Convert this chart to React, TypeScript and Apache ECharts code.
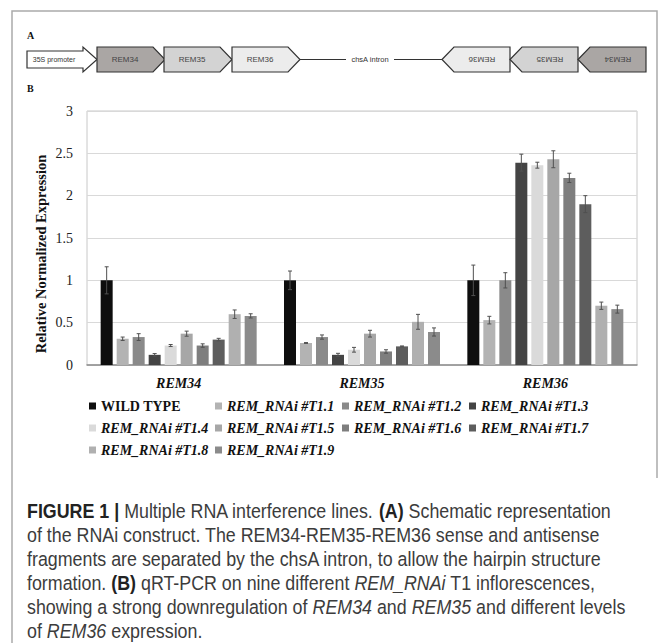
import React, { useEffect, useRef } from "react";
import * as echarts from "echarts";

// ---------- data ----------
const categories = ["REM34", "REM35", "REM36"];
const seriesNames = [
  "WILD TYPE",
  "REM_RNAi #T1.1",
  "REM_RNAi #T1.2",
  "REM_RNAi #T1.3",
  "REM_RNAi #T1.4",
  "REM_RNAi #T1.5",
  "REM_RNAi #T1.6",
  "REM_RNAi #T1.7",
  "REM_RNAi #T1.8",
  "REM_RNAi #T1.9",
];
const rem34Values = [1.0, 0.31, 0.33, 0.12, 0.23, 0.37, 0.23, 0.3, 0.6, 0.58];
const rem34Errors = [0.16, 0.02, 0.04, 0.015, 0.012, 0.03, 0.02, 0.015, 0.05, 0.025];
const rem35Values = [1.0, 0.26, 0.33, 0.12, 0.18, 0.37, 0.16, 0.22, 0.51, 0.39];
const rem35Errors = [0.11, 0.005, 0.025, 0.018, 0.028, 0.04, 0.02, 0.005, 0.088, 0.048];
const rem36Values = [1.0, 0.53, 1.0, 2.39, 2.36, 2.43, 2.21, 1.9, 0.7, 0.66];
const rem36Errors = [0.18, 0.045, 0.09, 0.1, 0.035, 0.1, 0.055, 0.1, 0.043, 0.047];
const yTicks = ["0", "0.5", "1", "1.5", "2", "2.5", "3"];
const yTitle = "Relative Normalized Expression";
const seriesColors = [
  "#0e0e0e", "#b3b3b3", "#8a8a8a", "#444444", "#dadada",
  "#a7a7a7", "#7e7e7e", "#5d5d5d", "#b0b0b0", "#8b8b8b",
];
const legendColumns = [
  ["WILD TYPE", "REM_RNAi #T1.4", "REM_RNAi #T1.8"],
  ["REM_RNAi #T1.1", "REM_RNAi #T1.5", "REM_RNAi #T1.9"],
  ["REM_RNAi #T1.2", "REM_RNAi #T1.6"],
  ["REM_RNAi #T1.3", "REM_RNAi #T1.7"],
];
const captionLines = [
  "{b|FIGURE 1 |} Multiple RNA interference lines. {b|(A)} Schematic representation",
  "of the RNAi construct. The REM34-REM35-REM36 sense and antisense",
  "fragments are separated by the chsA intron, to allow the hairpin structure",
  "formation. {b|(B)} qRT-PCR on nine different {i|REM_RNAi} T1 inflorescences,",
  "showing a strong downregulation of {i|REM34} and {i|REM35} and different levels",
  "of {i|REM36} expression.",
];

// ---------- layout ----------
const W = 663;
const H = 643;
const BAR_W = 12;
const BAR_GAP = 4;
const SERIF = "'Liberation Serif', 'Times New Roman', serif";
const SANS = "'Liberation Sans', Arial, sans-serif";

function buildSchematic(): any[] {
  const y0 = 47, y1 = 72, ym = 59.5;
  const stroke = "#333";
  const els: any[] = [];
  const fwd = (x: number, fill: string, label: string) => {
    els.push({
      type: "polygon",
      shape: { points: [[x, y0], [x + 56, y0], [x + 68, ym], [x + 56, y1], [x, y1]] },
      style: { fill, stroke, lineWidth: 1.2 },
    });
    els.push({
      type: "text",
      x: x + 28, y: ym,
      style: { text: label, fontSize: 8, fontFamily: SANS, fill: "#444", textAlign: "center", textVerticalAlign: "middle" },
    });
  };
  const rev = (x: number, fill: string, label: string) => {
    els.push({
      type: "polygon",
      shape: { points: [[x, ym], [x + 12, y0], [x + 68, y0], [x + 68, y1], [x + 12, y1]] },
      style: { fill, stroke, lineWidth: 1.2 },
    });
    els.push({
      type: "text",
      x: x + 40, y: ym, rotation: Math.PI,
      style: { text: label, fontSize: 8, fontFamily: SANS, fill: "#444", textAlign: "center", textVerticalAlign: "middle" },
    });
  };
  els.push({
    type: "polygon",
    shape: { points: [[27, 51], [83, 51], [83, y0], [97, ym], [83, y1], [83, 68], [27, 68]] },
    style: { fill: "#fff", stroke, lineWidth: 1.2 },
  });
  els.push({
    type: "text", x: 54, y: ym,
    style: { text: "35S promoter", fontSize: 7, fontFamily: SANS, fill: "#333", textAlign: "center", textVerticalAlign: "middle" },
  });
  fwd(97, "#aaa6a4", "REM34");
  fwd(164, "#d3d3d3", "REM35");
  fwd(232, "#ececec", "REM36");
  els.push({ type: "line", shape: { x1: 300, y1: ym, x2: 346, y2: ym }, style: { stroke, lineWidth: 1.2 } });
  els.push({
    type: "text", x: 370, y: ym,
    style: { text: "chsA intron", fontSize: 7.5, fontFamily: SANS, fill: "#333", textAlign: "center", textVerticalAlign: "middle" },
  });
  els.push({ type: "line", shape: { x1: 394, y1: ym, x2: 442, y2: ym }, style: { stroke, lineWidth: 1.2 } });
  rev(442, "#ececec", "REM36");
  rev(510, "#d3d3d3", "REM35");
  rev(578, "#aaa6a4", "REM34");
  els.push({ type: "text", x: 27, y: 35, style: { text: "A", fontSize: 10, fontWeight: "bold", fontFamily: SERIF, fill: "#111", textVerticalAlign: "middle" } });
  els.push({ type: "text", x: 27, y: 88, style: { text: "B", fontSize: 10, fontWeight: "bold", fontFamily: SERIF, fill: "#111", textVerticalAlign: "middle" } });
  // y-axis title
  els.push({
    type: "text", x: 41, y: 254, rotation: Math.PI / 2,
    style: { text: yTitle, fontSize: 14.5, fontWeight: "bold", fontFamily: SERIF, fill: "#111", textAlign: "center", textVerticalAlign: "middle" },
  });
  // frame
  els.push({
    type: "polyline",
    shape: { points: [[657, 478], [657, 11], [12, 11], [12, H]] },
    style: { stroke: "#aaaaaa", lineWidth: 1.5, fill: null },
  });
  return els;
}

function buildCaption(): any[] {
  const base = { fontSize: 20.5, fontFamily: SANS, fill: "#3c3c3c" };
  return captionLines.map((line, k) => ({
    type: "text",
    x: 27,
    y: 511 + k * 24,
    scaleX: 0.87,
    style: {
      text: line,
      ...base,
      textVerticalAlign: "middle",
      rich: {
        b: { fontSize: 20.5, fontFamily: SANS, fontWeight: "bold", fill: "#222" },
        i: { fontSize: 20.5, fontFamily: SANS, fontStyle: "italic", fill: "#3c3c3c" },
      },
    },
  }));
}

export default function App() {
  const ref = useRef<HTMLDivElement>(null);
  useEffect(() => {
    if (!ref.current) return;
    const chart = echarts.init(ref.current, undefined, { renderer: "svg" });
    const valuesByCat = [rem34Values, rem35Values, rem36Values];
    const errorsByCat = [rem34Errors, rem35Errors, rem36Errors];
    const n = seriesNames.length;

    const barSeries = seriesNames.map((name, i) => ({
      name,
      type: "bar",
      barWidth: BAR_W,
      barGap: `${(BAR_GAP / BAR_W) * 100}%`,
      itemStyle: { color: seriesColors[i] },
      data: valuesByCat.map((vals) => vals[i]),
      z: 2,
    }));

    const errSeries = seriesNames.map((name, i) => {
      const offset = (i - (n - 1) / 2) * (BAR_W + BAR_GAP);
      return {
        name: name + " error",
        type: "custom",
        z: 5,
        encode: { x: 0, y: 1 },
        data: valuesByCat.map((vals, c) => [c, vals[i], errorsByCat[c][i]]),
        renderItem: (_p: any, api: any) => {
          const c = api.value(0);
          const v = api.value(1);
          const e = api.value(2);
          const top = api.coord([c, v + e]);
          const bot = api.coord([c, v - e]);
          const x = top[0] + offset;
          const st = { stroke: "#505050", lineWidth: 1 };
          return {
            type: "group",
            children: [
              { type: "line", shape: { x1: x, y1: top[1], x2: x, y2: bot[1] }, style: st },
              { type: "line", shape: { x1: x - 2, y1: top[1], x2: x + 2, y2: top[1] }, style: st },
              { type: "line", shape: { x1: x - 2, y1: bot[1], x2: x + 2, y2: bot[1] }, style: st },
            ],
          };
        },
      };
    });

    const legendX = [89, 215, 342, 469];
    const legendText = {
      fontFamily: SERIF,
      fontSize: 14,
      fontWeight: "bold",
      fontStyle: "italic",
      color: "#111",
      rich: {
        n: { fontFamily: SERIF, fontSize: 14, fontWeight: "bold", fontStyle: "normal", color: "#111" },
        i: { fontFamily: SERIF, fontSize: 14, fontWeight: "bold", fontStyle: "italic", color: "#111" },
      },
    };
    const legends = legendColumns.map((col, k) => ({
      orient: "vertical",
      left: legendX[k],
      top: 399,
      padding: 0,
      itemGap: 8,
      itemWidth: 7,
      itemHeight: 7,
      icon: "rect",
      selectedMode: false,
      data: col,
      formatter: (name: string) => (name === "WILD TYPE" ? `{n|${name}}` : `{i|${name}}`),
      textStyle: legendText,
    }));

    chart.setOption({
      animation: false,
      backgroundColor: "#fff",
      grid: {
        left: 87,
        right: W - 637,
        top: 111,
        bottom: H - 365,
        show: true,
        borderColor: "#c8c8c8",
        borderWidth: 1,
        backgroundColor: "transparent",
      },
      legend: legends,
      xAxis: {
        type: "category",
        data: categories,
        axisTick: { show: false },
        axisLine: { lineStyle: { color: "#8c8c8c", width: 1.5 } },
        axisLabel: {
          margin: 11,
          fontFamily: SERIF,
          fontSize: 14,
          fontWeight: "bold",
          fontStyle: "italic",
          color: "#111",
        },
      },
      yAxis: {
        type: "value",
        min: 0,
        max: 3,
        interval: 0.5,
        axisLine: { show: false },
        axisTick: { show: false },
        splitLine: { lineStyle: { color: "#d9d9d9", width: 1 } },
        axisLabel: {
          margin: 14,
          fontFamily: SERIF,
          fontSize: 14,
          color: "#222",
          formatter: (v: number) => yTicks[Math.round(v / 0.5)] ?? String(v),
        },
      },
      series: [...barSeries, ...errSeries],
      graphic: [...buildSchematic(), ...buildCaption()],
    });
    return () => chart.dispose();
  }, []);
  return (
    <div
      ref={ref}
      style={{ position: "absolute", left: 0, top: 0, width: W, height: H, background: "#fff" }}
    />
  );
}
